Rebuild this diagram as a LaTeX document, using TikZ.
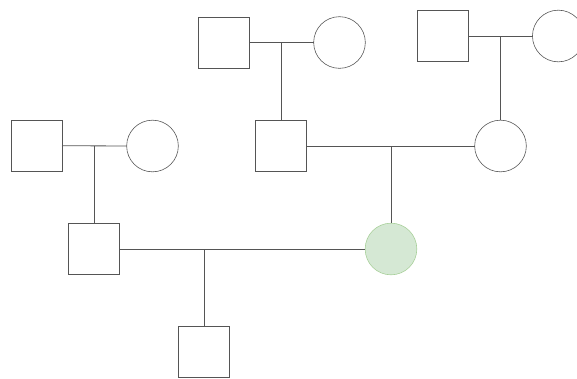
\documentclass[tikz,border=0pt]{standalone}
\definecolor{linegray}{HTML}{555555}
\definecolor{affected}{HTML}{D5E8D4}
\definecolor{affectededge}{HTML}{A8D09A}
\begin{document}
\begin{tikzpicture}[x=0.03cm, y=-0.03cm,
        male/.style={draw=linegray, line width=0.7pt, fill=white, minimum size=1.53cm, inner sep=0pt, outer sep=0pt},
        female/.style={circle, draw=linegray, line width=0.5pt, fill=white, minimum size=1.55cm, inner sep=0pt, outer sep=0pt},
        link/.style={draw=linegray, line width=0.7pt}]
        \useasboundingbox (0,0) rectangle (577,378);
        \clip (0,0) rectangle (577,378);
        % grandparents
        \node[male] (gf1) at (223.5,42.5) {};
        \node[female] (gm1) at (339.5,42.5) {};
        \node[male] (gf2) at (442.7,36) {};
        \node[female] (gm2) at (558.3,36) {};
        \node[male] (ls) at (36.5,145.7) {};
        \node[female] (lc) at (152.5,146) {};
        % parents
        \node[male] (son) at (281.3,146) {};
        \node[female] (dau) at (500.5,146) {};
        \node[male] (ms) at (94.3,249) {};
        \node[female, fill=affected, draw=affectededge] (gc) at (391,249) {};
        % child
        \node[male] (bs) at (204,352) {};
        \coordinate (u1) at (son.north |- gf1.east);
        \coordinate (u2) at (dau.north |- gf2.east);
        \coordinate (u3) at (ms.north |- ls.east);
        \coordinate (u4) at (gc.north |- son.east);
        \coordinate (u5) at (bs.north |- ms.east);
        \draw[link] (gf1.east) -- (gm1.west);
        \draw[link] (gf2.east) -- (gm2.west);
        \draw[link] (ls.east) -- (lc.west);
        \draw[link] (son.east) -- (dau.west);
        \draw[link] (ms.east) -- (gc.west);
        \draw[link] (u1) -- (son.north);
        \draw[link] (u2) -- (dau.north);
        \draw[link] (u3) -- (ms.north);
        \draw[link] (u4) -- (gc.north);
        \draw[link] (u5) -- (bs.north);
    \end{tikzpicture}
\end{document}
